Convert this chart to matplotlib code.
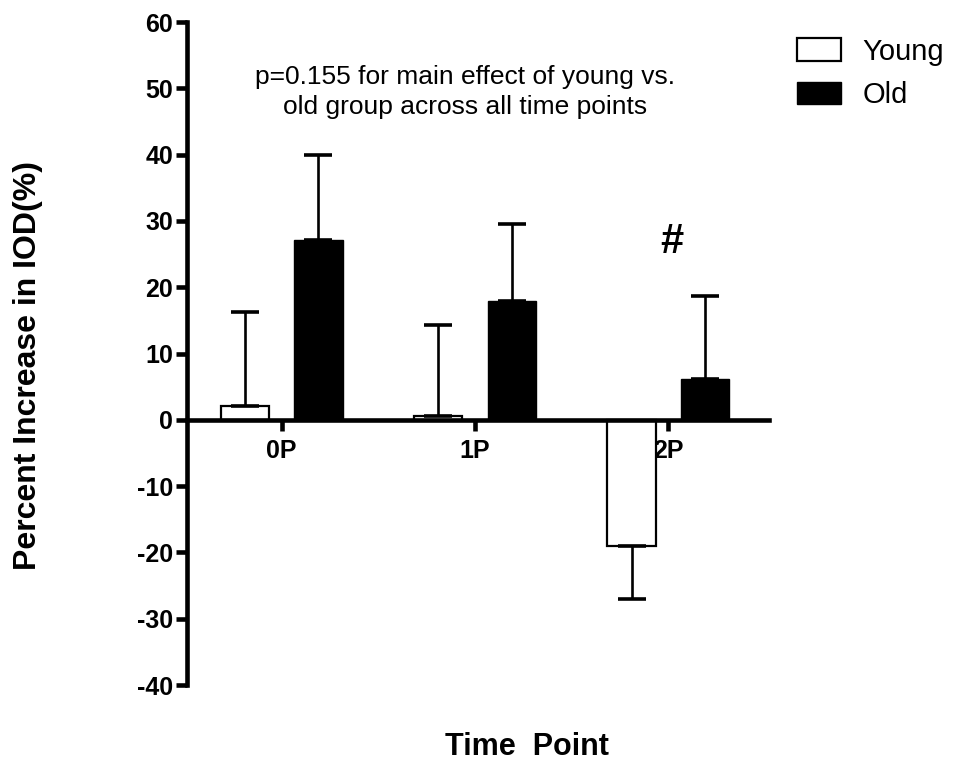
import matplotlib.pyplot as plt
import numpy as np

plt.rcParams['font.family'] = ['Liberation Sans', 'DejaVu Sans']
plt.rcParams['axes.unicode_minus'] = False

time_points = ['0P', '1P', '2P']
young_mean = [2.1, 0.5, -19.0]
young_err = [14.2, 13.8, 8.0]
old_mean = [27.1, 17.9, 6.2]
old_err = [12.9, 11.7, 12.5]

fig = plt.figure(figsize=(9.56, 7.64), dpi=100)
ax = fig.add_axes([0.1956, 0.1034, 0.6086, 0.8678])

x = np.arange(len(time_points))
w = 0.25
off = 0.19

# error bars only away from zero, like the original
young_lo = [e if m < 0 else 0 for m, e in zip(young_mean, young_err)]
young_hi = [e if m >= 0 else 0 for m, e in zip(young_mean, young_err)]
old_lo = [e if m < 0 else 0 for m, e in zip(old_mean, old_err)]
old_hi = [e if m >= 0 else 0 for m, e in zip(old_mean, old_err)]

ekw = dict(elinewidth=1.9, capthick=2.6, capsize=10, ecolor='black')
ax.bar(x - off, young_mean, w, color='white', edgecolor='black', linewidth=1.6,
       yerr=[young_lo, young_hi], error_kw=ekw, label='Young', zorder=2)
ax.bar(x + off, old_mean, w, color='black', edgecolor='black', linewidth=1,
       yerr=[old_lo, old_hi], error_kw=ekw, label='Old', zorder=2)

ax.set_xlim(-0.49, 2.52)
ax.set_ylim(-40, 60)
ax.set_yticks(range(-40, 61, 10))
ax.set_xticks(x)
ax.set_xticklabels(time_points)

for s in ['top', 'right']:
    ax.spines[s].set_visible(False)
ax.spines['bottom'].set_position(('data', 0))
ax.spines['bottom'].set_linewidth(3.3)
ax.spines['left'].set_linewidth(3.3)
ax.spines['bottom'].set_zorder(3)
ax.tick_params(axis='both', width=3.3, length=8, labelsize=18, pad=2)
ax.tick_params(axis='x', pad=6)
for lab in ax.get_xticklabels() + ax.get_yticklabels():
    lab.set_fontweight('bold')

ax.text(0.946, 49.4, 'p=0.155 for main effect of young vs.\nold group across all time points',
        ha='center', va='center', fontsize=19, linespacing=1.3)
ax.text(2.02, 26.8, '#', ha='center', va='center', fontsize=30, fontweight='bold')

fig.text(0.029, 0.521, 'Percent Increase in IOD(%)', rotation=90, ha='center', va='center',
         fontsize=23, fontweight='bold')
fig.text(0.551, 0.012, 'Time  Point', ha='center', va='baseline',
         fontsize=22, fontweight='bold')

ax.legend(loc='upper left', bbox_to_anchor=(797 / 956, 1 - 38 / 764),
          bbox_transform=fig.transFigure, frameon=False, borderpad=0, borderaxespad=0,
          fontsize=21, handlelength=1.5, handleheight=0.83, handletextpad=0.75,
          labelspacing=0.52)

fig.savefig('out.png', dpi=100)
